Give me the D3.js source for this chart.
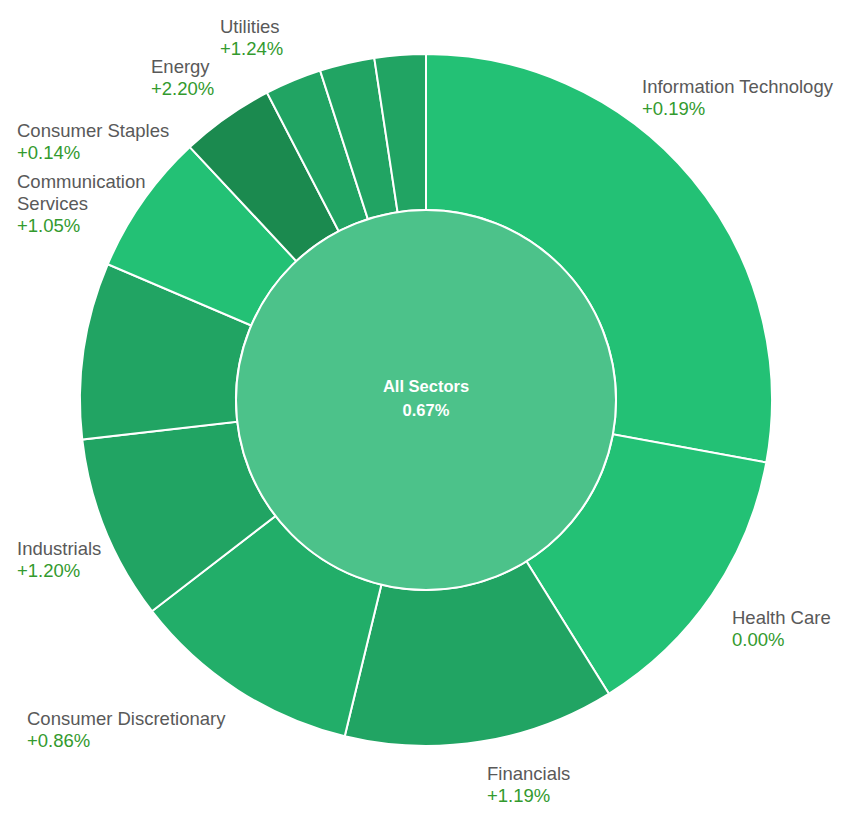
<!DOCTYPE html>
<html>
<head>
<meta charset="utf-8">
<script src="https://cdn.jsdelivr.net/npm/d3@7"></script>
<style>
  body { margin: 0; background: #ffffff; }
  text { font-family: "Liberation Sans", Arial, sans-serif; }
</style>
</head>
<body>
<div id="sunburst"></div>
<script>
// Data (weights in % of the index, change in %)
const SECTORS = ["Information Technology", "Health Care", "Financials",
                 "Consumer Discretionary", "Industrials", "Communication Services",
                 "Consumer Staples", "Energy", "Utilities", "Real Estate", "Materials"];
const WEIGHTS = [27.9, 13.25, 12.64, 10.78, 8.63, 8.24, 6.63, 4.36, 2.65, 2.56, 2.39];
const CHANGES = [0.19, 0.00, 1.19, 0.86, 1.20, 1.05, 0.14, 2.20, 1.24, 1.20, 1.20];
const SHOW_LABEL = [true, true, true, true, true, true, true, true, true, false, false];
const TOTAL_NAME = "All Sectors";
const TOTAL_CHANGE = 0.67;

// Constants for the picture
const FRAME_WIDTH = 859;
const FRAME_HEIGHT = 825;
const CENTER = {x: 426, y: 400};
const OUTER_R = 346;
const INNER_R = 190;

// where each label block sits: [x, first baseline, wrap width]
const LABEL_SPOTS = [[642, 93, 400], [732, 624, 400], [487, 780, 400],
                     [27, 725, 400], [17, 555, 400], [17, 188, 150],
                     [17, 137, 400], [151, 73, 400], [220, 33, 400], null, null];

const FRAME1 = d3.select("#sunburst")
                  .append("svg")
                    .attr("width", FRAME_WIDTH)
                    .attr("height", FRAME_HEIGHT);

const data = SECTORS.map((s, i) => ({name: s, weight: WEIGHTS[i], change: CHANGES[i],
                                     show: SHOW_LABEL[i], spot: LABEL_SPOTS[i]}));

// colour steps by change
const color = d3.scaleThreshold()
                .domain([0.5, 1.0, 2.0])
                .range(["#23c175", "#22ae69", "#21a463", "#1b8a4f"]);

const pie = d3.pie()
              .sort(null)
              .value(d => d.weight);

const arc = d3.arc()
              .innerRadius(INNER_R)
              .outerRadius(OUTER_R);

const g = FRAME1.append("g")
                .attr("transform", "translate(" + CENTER.x + "," + CENTER.y + ")");

// ring of sectors
g.selectAll(".slice")
  .data(pie(data))
  .enter()
  .append("path")
    .attr("class", "slice")
    .attr("d", arc)
    .attr("fill", d => color(d.data.change))
    .attr("stroke", "#ffffff")
    .attr("stroke-width", 2);

// centre
g.append("circle")
  .attr("r", INNER_R)
  .attr("fill", "#4cc28a")
  .attr("stroke", "#ffffff")
  .attr("stroke-width", 2);

g.append("text")
  .attr("text-anchor", "middle")
  .attr("y", -8)
  .attr("fill", "#ffffff")
  .attr("font-size", "16.5px")
  .attr("font-weight", "bold")
  .text(TOTAL_NAME);

g.append("text")
  .attr("text-anchor", "middle")
  .attr("y", 16)
  .attr("fill", "#ffffff")
  .attr("font-size", "16.5px")
  .attr("font-weight", "bold")
  .text(TOTAL_CHANGE.toFixed(2) + "%");

function fmt(v) {
  return (v > 0 ? "+" : "") + v.toFixed(2) + "%";
}

// outside labels
const LINE_H = 22;
const labels = FRAME1.selectAll(".label")
  .data(data.filter(d => d.show))
  .enter()
  .append("text")
    .attr("class", "label")
    .attr("font-size", "18.5px");

labels.each(function(d) {
  const t = d3.select(this);
  const [x, y, wrap] = d.spot;
  // crude word wrap
  const words = d.name.split(" ");
  let lines = [words[0]];
  const probe = t.append("tspan");
  for (let k = 1; k < words.length; k++) {
    const trial = lines[lines.length - 1] + " " + words[k];
    probe.text(trial);
    if (probe.node().getComputedTextLength() > wrap) lines.push(words[k]);
    else lines[lines.length - 1] = trial;
  }
  probe.remove();
  lines.forEach((ln, k) => {
    t.append("tspan").attr("x", x).attr("y", y + k * LINE_H)
      .attr("fill", "#595959").text(ln);
  });
  t.append("tspan").attr("x", x).attr("y", y + lines.length * LINE_H)
    .attr("fill", "#339a2e").text(fmt(d.change));
});
</script>
</body>
</html>
